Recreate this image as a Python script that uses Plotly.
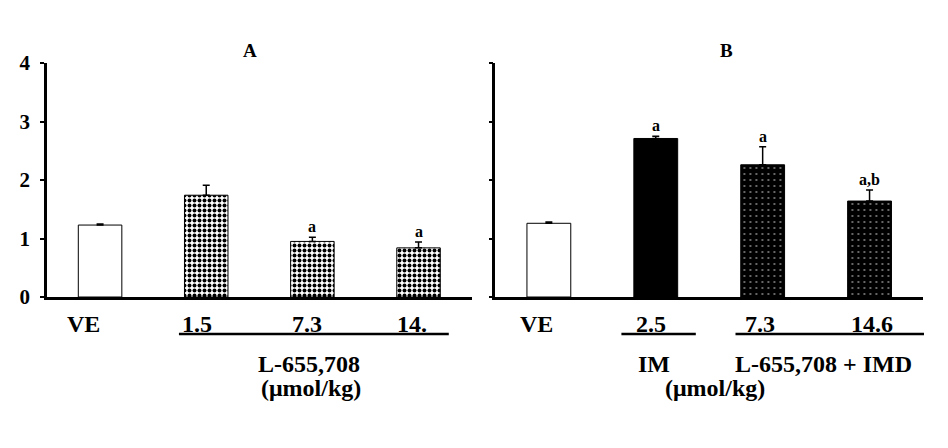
import plotly.graph_objects as go
from plotly.subplots import make_subplots

# ---------------- data ----------------
cats_a = ["VE", "1.5", "7.3", "14."]
vals_a = [1.23, 1.74, 0.95, 0.84]
err_a = [0.02, 0.17, 0.07, 0.10]
sig_a = ["", "", "a", "a"]

cats_b = ["VE", "2.5", "7.3", "14.6"]
vals_b = [1.26, 2.71, 2.26, 1.64]
err_b = [0.02, 0.04, 0.31, 0.19]
sig_b = ["", "a", "a", "a,b"]

y_ticks = [0, 1, 2, 3, 4]
titles = ["A", "B"]

# ---------------- layout helpers ----------------
OFF = 8                      # default page body margin
W, H = 948 - OFF, 448 - OFF
L, R, T, B = 40 - OFF, 25, 63 - OFF, 151
PW, PH = W - L - R, H - T - B
PLOT_LEFT, PLOT_BOTTOM = L + OFF, T + OFF + PH
FONT = "Liberation Serif"


def px(x):
    return (x - PLOT_LEFT) / PW


def py(y):
    return (PLOT_BOTTOM - y) / PH


fig = make_subplots(rows=1, cols=2, horizontal_spacing=0.0)

white = dict(color="white", line=dict(color="black", width=1))
stip_a = dict(color="white", line=dict(color="black", width=1),
              pattern=dict(shape=".", fgcolor="black", bgcolor="white",
                           size=5, solidity=0.5, fillmode="replace"))
solid_b = dict(color="black", line=dict(color="black", width=1))
dots_b = dict(color="black", line=dict(color="black", width=1),
              pattern=dict(shape=".", fgcolor="white", bgcolor="black",
                           size=6, solidity=0.05, fillmode="replace"))

styles_a = [white, stip_a, stip_a, stip_a]
styles_b = [white, solid_b, dots_b, dots_b]


def add_bars(vals, errs, styles, col):
    for i, (v, e, st) in enumerate(zip(vals, errs, styles)):
        fig.add_trace(go.Bar(
            x=[i], y=[v], marker=st, width=0.41,
            error_y=dict(type="data", symmetric=False, array=[e],
                         arrayminus=[0], color="black", thickness=1.5,
                         width=3.5),
            showlegend=False, hoverinfo="skip"),
            row=1, col=col)


add_bars(vals_a, err_a, styles_a, 1)
add_bars(vals_b, err_b, styles_b, 2)

axis_common = dict(showline=True, linecolor="black", linewidth=2.5,
                   mirror=False, showgrid=False, zeroline=False)
fig.update_xaxes(**axis_common, ticks="", showticklabels=False,
                 range=[-0.5, 3.5])
fig.update_yaxes(**axis_common, range=[0, 4], tickvals=y_ticks,
                 ticktext=["<b>%d</b>" % t for t in y_ticks],
                 ticks="outside", ticklen=4, tickwidth=2, tickcolor="black",
                 ticklabelstandoff=6,
                 tickfont=dict(family=FONT, size=21, color="black"))
fig.update_yaxes(showticklabels=False, row=1, col=2)
fig.update_xaxes(domain=[0, px(468)], row=1, col=1)
fig.update_xaxes(domain=[px(492), 1], row=1, col=2)

ann = []


def bold(s):
    return "<b>" + s + "</b>"


# significance letters
for xref, yref, vals, errs, sig in (("x", "y", vals_a, err_a, sig_a),
                                    ("x2", "y2", vals_b, err_b, sig_b)):
    for i, (v, e, s) in enumerate(zip(vals, errs, sig)):
        if s:
            ann.append(dict(x=i, y=v + e, xref=xref, yref=yref, text=bold(s),
                            showarrow=False, xanchor="center", yanchor="bottom",
                            yshift=0,
                            font=dict(family=FONT, size=16, color="black")))

# category labels
shifts_a = [-17, -9, -5, -7]
shifts_b = [-12, -5, -3, 2]
for xref, cats, shifts in (("x", cats_a, shifts_a), ("x2", cats_b, shifts_b)):
    for i, (c, s) in enumerate(zip(cats, shifts)):
        ann.append(dict(x=i, y=py(324), xref=xref, yref="paper", text=bold(c),
                        showarrow=False, xshift=s, xanchor="center",
                        yanchor="middle",
                        font=dict(family=FONT, size=24, color="black")))

# titles
for t, xp in zip(titles, (245, 725)):
    ann.append(dict(x=px(xp), y=py(51), xref="paper", yref="paper", text=bold(t),
                    showarrow=False, xanchor="center", yanchor="middle",
                    font=dict(family=FONT, size=19, color="black")))

# group labels
group_labels = [("L-655,708", 304, 364), ("(\u03bcmol/kg)", 306, 388),
                ("IM", 652, 364), ("L-655,708 + IMD", 823, 364),
                ("(\u03bcmol/kg)", 713, 388)]
for t, xp, yp in group_labels:
    ann.append(dict(x=px(xp), y=py(yp), xref="paper", yref="paper", text=bold(t),
                    showarrow=False, xanchor="center", yanchor="middle",
                    font=dict(family=FONT, size=24, color="black")))

shapes = []
for x0, x1 in ((173, 445), (619, 694), (734, 924)):
    shapes.append(dict(type="line", xref="paper", yref="paper",
                       x0=px(x0), x1=px(x1), y0=py(334), y1=py(334),
                       line=dict(color="black", width=2.5)))

fig.update_layout(width=W, height=H, margin=dict(l=L, r=R, t=T, b=B),
                  plot_bgcolor="white", paper_bgcolor="white",
                  annotations=ann, shapes=shapes,
                  font=dict(family=FONT, color="black"))

fig.write_html("out.html")
